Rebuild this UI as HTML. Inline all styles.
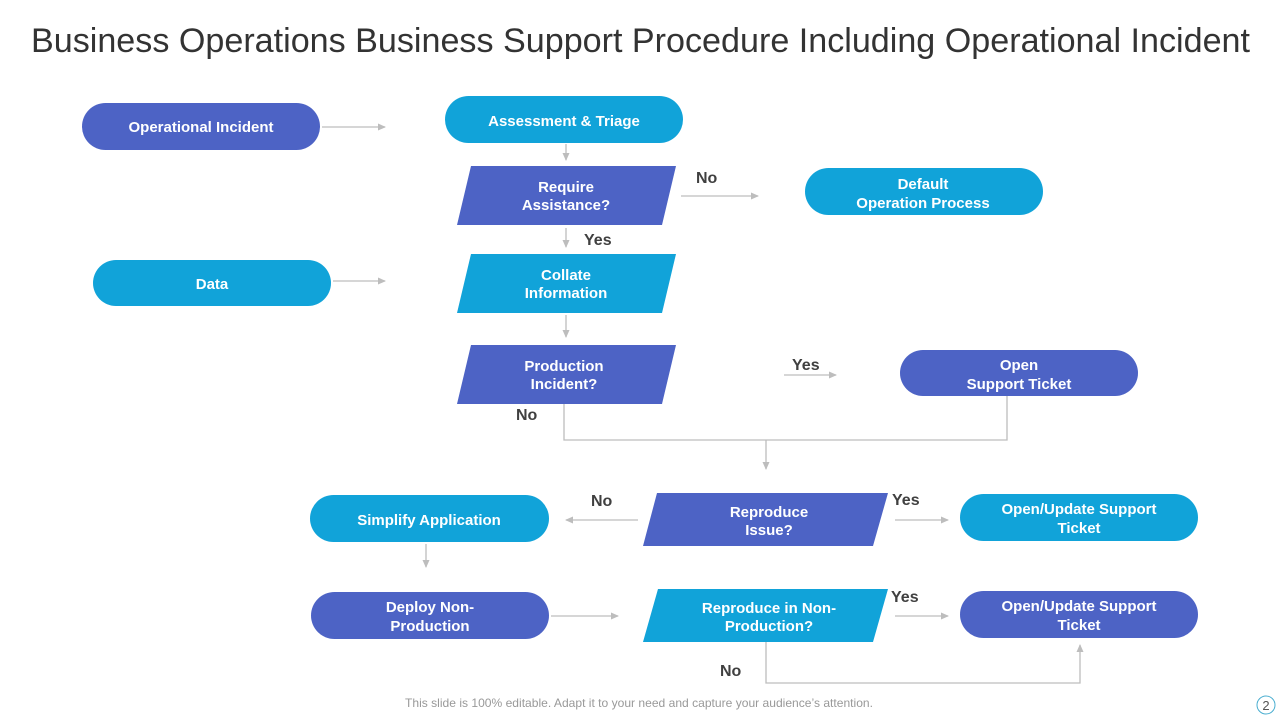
<!DOCTYPE html>
<html><head><meta charset="utf-8"><style>
html,body{margin:0;padding:0;background:#fff;width:1280px;height:720px;overflow:hidden}
svg text{font-family:"Liberation Sans",Arial,sans-serif}
.w{fill:#fff;font-weight:bold;font-size:15px;text-anchor:middle}
.l{fill:#404040;font-weight:bold;font-size:16px}
.ln{stroke:#bdbdbd;stroke-width:1.3;fill:none}
</style></head><body>
<svg width="1280" height="720" viewBox="0 0 1280 720">
<defs><marker id="a" markerWidth="8" markerHeight="8" refX="7" refY="4" orient="auto" markerUnits="userSpaceOnUse"><path d="M0,0.5 L8,4 L0,7.5z" fill="#bdbdbd"/></marker></defs>
<text x="31" y="52" font-size="34" fill="#333" textLength="1219" lengthAdjust="spacingAndGlyphs">Business Operations Business Support Procedure Including Operational Incident</text>

<g class="ln" marker-end="url(#a)">
<line x1="322" y1="127" x2="385" y2="127"/>
<line x1="566" y1="144" x2="566" y2="160"/>
<line x1="681" y1="196" x2="758" y2="196"/>
<line x1="566" y1="228" x2="566" y2="247"/>
<line x1="333" y1="281" x2="385" y2="281"/>
<line x1="566" y1="315" x2="566" y2="337"/>
<line x1="784" y1="375" x2="836" y2="375"/>
<line x1="766" y1="440" x2="766" y2="469"/>
<line x1="638" y1="520" x2="566" y2="520"/>
<line x1="895" y1="520" x2="948" y2="520"/>
<line x1="426" y1="544" x2="426" y2="567"/>
<line x1="551" y1="616" x2="618" y2="616"/>
<line x1="895" y1="616" x2="948" y2="616"/>
<polyline points="766,642 766,683 1080,683 1080,645"/>
</g>
<polyline class="ln" points="564,404 564,440 1007,440 1007,396"/>

<g>
<rect x="82" y="103" width="238" height="47" rx="23.5" fill="#4d63c5"/>
<text class="w" x="201" y="132">Operational Incident</text>
<rect x="445" y="96" width="238" height="47" rx="23.5" fill="#11a3d9"/>
<text class="w" x="564" y="126">Assessment &amp; Triage</text>
<rect x="805" y="168" width="238" height="47" rx="23.5" fill="#11a3d9"/>
<text class="w" x="923" y="189">Default</text><text class="w" x="923" y="208">Operation Process</text>
<rect x="93" y="260" width="238" height="46" rx="23" fill="#11a3d9"/>
<text class="w" x="212" y="289">Data</text>
<rect x="900" y="350" width="238" height="46" rx="23" fill="#4d63c5"/>
<text class="w" x="1019" y="370">Open</text><text class="w" x="1019" y="389">Support Ticket</text>
<rect x="310" y="495" width="239" height="47" rx="23.5" fill="#11a3d9"/>
<text class="w" x="429" y="525">Simplify Application</text>
<rect x="960" y="494" width="238" height="47" rx="23.5" fill="#11a3d9"/>
<text class="w" x="1079" y="514">Open/Update Support</text><text class="w" x="1079" y="533">Ticket</text>
<rect x="311" y="592" width="238" height="47" rx="23.5" fill="#4d63c5"/>
<text class="w" x="430" y="612">Deploy Non-</text><text class="w" x="430" y="631">Production</text>
<rect x="960" y="591" width="238" height="47" rx="23.5" fill="#4d63c5"/>
<text class="w" x="1079" y="611">Open/Update Support</text><text class="w" x="1079" y="630">Ticket</text>
</g>

<polygon points="471,166 676,166 662,225 457,225" fill="#4d63c5"/>
<text class="w" x="566" y="192" font-size="14">Require</text><text class="w" x="566" y="210" font-size="14">Assistance?</text>
<polygon points="471,254 676,254 662,313 457,313" fill="#11a3d9"/>
<text class="w" x="566" y="280" font-size="14">Collate</text><text class="w" x="566" y="298" font-size="14">Information</text>
<polygon points="471,345 676,345 662,404 457,404" fill="#4d63c5"/>
<text class="w" x="564" y="371" font-size="14">Production</text><text class="w" x="564" y="389" font-size="14">Incident?</text>
<polygon points="657,493 888,493 873,546 643,546" fill="#4d63c5"/>
<text class="w" x="769" y="517" font-size="14">Reproduce</text><text class="w" x="769" y="535" font-size="14">Issue?</text>
<polygon points="658,589 888,589 873,642 643,642" fill="#11a3d9"/>
<text class="w" x="769" y="613" font-size="14">Reproduce in Non-</text><text class="w" x="769" y="631" font-size="14">Production?</text>

<text class="l" x="696" y="183">No</text>
<text class="l" x="584" y="245">Yes</text>
<text class="l" x="792" y="370">Yes</text>
<text class="l" x="516" y="420">No</text>
<text class="l" x="591" y="506">No</text>
<text class="l" x="892" y="505">Yes</text>
<text class="l" x="891" y="602">Yes</text>
<text class="l" x="720" y="676">No</text>

<text x="405" y="707" font-size="12" fill="#999" textLength="468" lengthAdjust="spacingAndGlyphs">This slide is 100% editable. Adapt it to your need and capture your audience’s attention.</text>
<circle cx="1266" cy="705" r="9" fill="#fff" stroke="#4aaed0" stroke-width="1"/>
<text x="1266" y="710" text-anchor="middle" font-size="13" fill="#555">2</text>
</svg>
</body></html>
